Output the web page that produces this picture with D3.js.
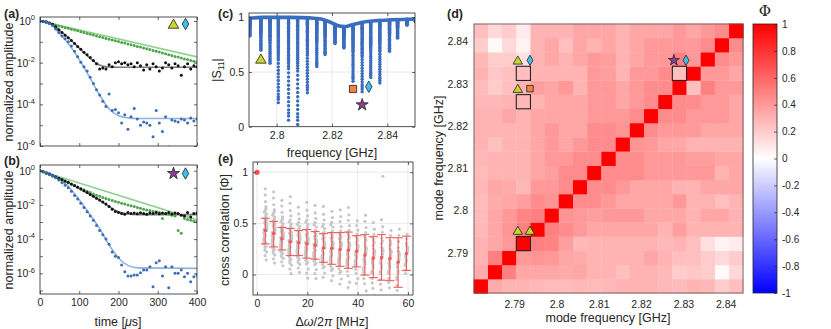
<!DOCTYPE html>
<html><head><meta charset="utf-8">
<script src="https://cdn.jsdelivr.net/npm/d3@7"></script>
<style>
body{margin:0;background:#fff}
text{font-family:"Liberation Sans",Arial,Helvetica,sans-serif;fill:#262626}
</style></head>
<body><svg id="fig" width="831" height="329" xmlns="http://www.w3.org/2000/svg"></svg>
<script>
// ---------------- DATA ----------------
const timeUs = [0,8,16,24,32,40,48,56,64,72,80,88,96,104,112,120,128,136,144,152,160,168,176,184,192,200,208,216,224,232,240,248,256,264,272,280,288,296,304,312,320,328,336,344,352,360,368,376,384,392,400];
// panel (a): log10 of normalized amplitude
const aGreenLog = [0,-0.03,-0.08,-0.11,-0.16,-0.19,-0.24,-0.27,-0.32,-0.35,-0.40,-0.43,-0.47,-0.52,-0.55,-0.60,-0.63,-0.67,-0.72,-0.75,-0.79,-0.84,-0.87,-0.91,-0.95,-0.98,-1.03,-1.06,-1.10,-1.14,-1.17,-1.22,-1.25,-1.30,-1.33,-1.37,-1.42,-1.45,-1.49,-1.54,-1.57,-1.62,-1.65,-1.70,-1.73,-1.78,-1.82,-1.85,-1.90,-1.93,-1.97];
const aBlackLog = [0,-0.01,-0.04,-0.09,-0.16,-0.27,-0.42,-0.55,-0.68,-0.80,-0.93,-1.08,-1.22,-1.35,-1.50,-1.62,-1.75,-1.90,-2.05,-2.30,-2.25,-2.30,-2.10,-2.20,-2.00,-1.95,-2.05,-2.00,-2.10,-2.05,-2.20,-2.00,-2.15,-2.35,-2.10,-2.30,-2.05,-2.20,-2.40,-2.25,-2.00,-2.10,-2.25,-2.05,-2.15,-2.60,-2.20,-2.05,-2.30,-2.15,-2.20];
const aBlueLog = [0,-0.02,-0.06,-0.12,-0.22,-0.38,-0.55,-0.72,-0.85,-1.00,-1.20,-1.45,-1.72,-1.98,-2.20,-2.40,-2.70,-3.00,-3.30,-3.55,-3.85,-4.10,-3.50,-4.30,-4.25,-4.40,-4.90,-4.50,-5.20,-4.60,-4.20,-4.70,-5.00,-4.85,-4.90,-5.00,-5.55,-4.30,-4.90,-5.30,-4.60,-6.05,-4.75,-4.80,-4.85,-4.70,-4.75,-4.90,-4.65,-4.80,-4.70];
const aGreenFit = [[0,0],[400,-1.72]];
const aBlackFit = [[0,0],[25,-0.08],[50,-0.45],[75,-0.85],[100,-1.3],[125,-1.75],[150,-2.1],[170,-2.2],[200,-2.22],[400,-2.22]];
const aBlueFit = [[0,0],[25,-0.12],[50,-0.6],[75,-1.15],[100,-1.85],[125,-2.65],[150,-3.5],[175,-4.2],[200,-4.55],[225,-4.65],[250,-4.68],[400,-4.68]];
// panel (b)
const bGreenLog = [0,-0.08,-0.16,-0.24,-0.32,-0.40,-0.48,-0.56,-0.64,-0.72,-0.80,-0.88,-0.96,-1.04,-1.12,-1.20,-1.28,-1.36,-1.44,-1.50,-1.56,-1.62,-1.68,-1.74,-1.80,-1.85,-1.90,-1.95,-2.00,-2.05,-2.10,-2.15,-2.20,-2.25,-2.30,-2.33,-2.37,-2.40,-2.44,-2.80,-2.50,-2.55,-2.60,-2.65,-3.50,-3.65,-2.80,-2.85,-2.90,-2.95,-2.98];
const bBlackLog = [0,-0.06,-0.13,-0.20,-0.28,-0.36,-0.44,-0.52,-0.60,-0.68,-0.78,-0.87,-0.97,-1.07,-1.17,-1.28,-1.39,-1.50,-1.61,-1.72,-1.83,-1.95,-2.10,-2.25,-2.38,-2.45,-2.50,-2.55,-2.45,-2.50,-2.48,-2.52,-2.46,-2.50,-2.55,-2.47,-2.50,-2.45,-2.52,-2.48,-2.50,-2.45,-2.53,-2.48,-2.50,-2.60,-2.65,-2.45,-2.70,-2.50,-2.48];
const bBlueLog = [0,-0.05,-0.12,-0.22,-0.30,-0.42,-0.55,-0.70,-0.85,-1.00,-1.20,-1.45,-1.65,-1.90,-2.15,-2.40,-2.65,-2.90,-3.20,-3.50,-3.75,-4.00,-4.30,-4.75,-5.00,-5.07,-5.51,-5.90,-6.16,-6.16,-6.10,-6.10,-5.96,-5.80,-5.81,-5.61,-6.78,-5.38,-5.26,-6.16,-5.61,-6.84,-5.61,-6.00,-6.00,-5.81,-6.20,-6.00,-6.49,-6.20,-6.10];
const bGreenFit = [[0,0],[400,-2.88]];
const bBlackFit = [[0,0],[50,-0.45],[100,-1.05],[150,-1.7],[180,-2.15],[200,-2.4],[220,-2.52],[250,-2.57],[400,-2.57]];
const bBlueFit = [[0,0],[25,-0.15],[50,-0.5],[75,-1.0],[100,-1.7],[125,-2.5],[150,-3.3],[175,-4.3],[200,-5.1],[225,-5.55],[250,-5.68],[400,-5.71]];
const decadeTicks = [0,-1,-2,-3,-4,-5,-6,-7];
const decadeLabels = [0,-2,-4,-6];
const timeTicks = [0,100,200,300,400];

// panel (c): |S11|
const cModeFreq = [2.7903,2.7943,2.7976,2.8006,2.8043,2.8076,2.8111,2.8145,2.8175,2.8211,2.8243,2.8276,2.8309,2.8340,2.8373,2.8408,2.8437,2.8471,2.8502];
const cModeMin  = [0.83,0.70,0.58,0.22,0.06,0.02,0.31,0.55,0.66,0.76,0.72,0.415,0.32,0.45,0.40,0.69,0.81,0.93,0.96];
const cBaseline = [[2.7895,0.99],[2.795,1.0],[2.805,1.0],[2.812,0.995],[2.816,0.985],[2.819,0.96],[2.822,0.925],[2.8245,0.915],[2.827,0.93],[2.831,0.955],[2.836,0.97],[2.842,0.978],[2.8505,0.985]];
const cDipProfile = [0,0.012,0.024,0.036,0.048,0.06,0.072,0.084,0.096,0.108,0.12,0.135,0.15,0.165,0.18,0.195,0.21,0.225,0.24,0.255,0.27,0.285,0.3,0.318,0.336,0.354,0.372,0.39,0.41,0.43,0.45,0.475,0.5,0.54,0.58,0.62,0.66,0.70,0.74,0.78,0.82,0.86,0.90,0.93,0.96,1.0];
const cMarkers = [{s:'tri',f:2.7943,v:0.62},{s:'sq',f:2.8276,v:0.345},{s:'dia',f:2.8333,v:0.366},{s:'star',f:2.8309,v:0.2}];
const cTicksX = [2.80,2.82,2.84], cTicksY = [0,0.5,1];

// panel (d): correlation matrix (upper triangle, row i from lowest mode; entries j=i+1..18)
const dModeFreq = [2.7821,2.7855,2.7888,2.7922,2.7955,2.7989,2.8022,2.8056,2.8089,2.8123,2.8157,2.8190,2.8224,2.8257,2.8291,2.8324,2.8358,2.8391,2.8425];
const corrUpper = [
 [0.33,0.30,0.30,0.28,0.27,0.27,0.28,0.27,0.28,0.30,0.30,0.30,0.28,0.27,0.30,0.28,0.20,0.25],
 [0.50,0.35,0.35,0.35,0.33,0.35,0.30,0.30,0.25,0.30,0.30,0.28,0.20,0.22,0.20,0.02,0.15],
 [0.40,0.42,0.40,0.35,0.33,0.30,0.30,0.30,0.30,0.35,0.30,0.25,0.25,0.20,0.15,0.20],
 [0.50,0.48,0.38,0.28,0.30,0.30,0.30,0.30,0.30,0.28,0.30,0.25,0.12,0.05,0.08],
 [0.50,0.45,0.40,0.35,0.35,0.35,0.35,0.35,0.30,0.38,0.30,0.30,0.30,0.30],
 [0.42,0.40,0.38,0.40,0.40,0.40,0.35,0.35,0.35,0.30,0.35,0.35,0.30],
 [0.45,0.45,0.40,0.35,0.35,0.35,0.35,0.40,0.30,0.30,0.25,0.30],
 [0.45,0.45,0.40,0.35,0.35,0.35,0.30,0.30,0.35,0.35,0.35],
 [0.45,0.45,0.45,0.40,0.40,0.40,0.40,0.40,0.30,0.35],
 [0.45,0.45,0.40,0.40,0.40,0.38,0.38,0.35,0.35],
 [0.42,0.40,0.35,0.35,0.30,0.30,0.30,0.30],
 [0.45,0.40,0.40,0.40,0.35,0.35,0.35],
 [0.45,0.45,0.40,0.40,0.40,0.35],
 [0.45,0.45,0.40,0.40,0.35],
 [0.25,0.50,0.40,0.40],
 [0.40,0.40,0.35],
 [0.45,0.40],
 [0.45]
];
const dBoxes = [[3,15],[3,13],[14,15],[3,3]]; // [col,row]
const dBoxMarkers = [['tri','dia'],['tri','sq'],['star','dia'],['tri','tri']];
const dTicks = [2.79,2.80,2.81,2.82,2.83,2.84];
const cbTicks = [-1,-0.8,-0.6,-0.4,-0.2,0,0.2,0.4,0.6,0.8,1];

// panel (e)
const eDelta = [3.3,6.6,9.9,13.2,16.5,19.8,23.1,26.4,29.7,33.0,36.3,39.6,42.9,46.2,49.5,52.8,56.1,59.4];
const eMean = [0.43,0.40,0.35,0.32,0.31,0.30,0.285,0.26,0.256,0.245,0.237,0.227,0.19,0.16,0.165,0.156,0.12,0.205];
const eLo = [0.30,0.27,0.24,0.185,0.185,0.16,0.15,0.12,0.10,0.08,0.06,0.075,-0.005,-0.03,-0.055,-0.06,-0.125,0.04];
const eHi = [0.55,0.52,0.46,0.45,0.43,0.44,0.42,0.40,0.41,0.41,0.415,0.38,0.39,0.37,0.39,0.36,0.36,0.375];
const grayZ = [0.05,-0.2,0.35,-0.45,0.6,-0.7,0.15,-0.08,0.85,-0.95,0.28,-0.35,1.1,-1.15,0.45,-0.6,1.35,-1.4,0.72,-0.25,1.65,-1.75,0.98,0.2,-0.82,1.95,-2.05,0.4,-0.5,2.35,-1.3,0.65,0.0,1.5,-1.0,2.9,-2.4,0.1,1.2,-0.38,0.52,-1.6,3.4,0.25,-0.72,1.8,-0.15,0.9];
const grayDx = [0.25,-0.35,0.5,-0.1,0.05,-0.55,0.4,-0.25,0.15,-0.45,0.55,-0.05,0.3,-0.4,0.1,-0.5,0.45,-0.15,0.35,-0.3,0.0,0.5,-0.35,0.2,-0.55,0.25,-0.1,0.4,-0.45,0.05,0.3,-0.25,0.5,-0.4,0.1,-0.05,0.35,-0.5,0.15,-0.3,0.55,-0.15,0.0,0.45,-0.35,0.25,-0.55,0.35];
const grayCounts = [48,48,46,44,42,40,38,36,34,32,30,28,26,24,22,20,18,16];
const grayExtra = [[50.0,0.96]];
const eSelf = [0,1];
const eTicksX = [0,20,40,60], eTicksY = [0,0.5,1];

// ---------------- DRAWING ----------------
const svg = d3.select('#fig');
const AX = '#262626';
const defs = svg.append('defs');
const COL = {green:'#4da64d', greenFit:'#90d090', black:'#111', gray:'#7d7d7d', blue:'#3b6cb6', blueFit:'#8fb3da',
  tri:'#c9d42c', sq:'#f0843c', dia:'#3cbfe9', star:'#8c3f8f', s11:'#3a6cbf'};
const fmtMinus = f => (d => f(d).replace('\u2212','-'));

function clip(id, x0, y0, w, h){
  defs.append('clipPath').attr('id',id).append('rect').attr('x',x0).attr('y',y0).attr('width',w).attr('height',h);
  return 'url(#'+id+')';
}
function frameAxes(x, y, opt){
  const [xa,xb] = x.range(), [ya,yb] = y.range();
  const top = Math.min(ya,yb), bot = Math.max(ya,yb);
  const g = svg.append('g');
  const ax = g.append('g').attr('transform',`translate(0,${bot})`)
    .call(d3.axisBottom(x).tickValues(opt.xt).tickSize(-3).tickPadding(5).tickFormat(opt.xf||null));
  g.append('g').attr('transform',`translate(0,${top})`)
    .call(d3.axisTop(x).tickValues(opt.xt).tickSize(-3).tickFormat(''));
  const ay = g.append('g').attr('transform',`translate(${xa},0)`)
    .call(d3.axisLeft(y).tickValues(opt.yt).tickSize(-3).tickPadding(5).tickFormat(opt.yf||null));
  g.append('g').attr('transform',`translate(${xb},0)`)
    .call(d3.axisRight(y).tickValues(opt.yt).tickSize(-3).tickFormat(''));
  g.selectAll('.domain').remove();
  g.selectAll('.tick line').attr('stroke',AX).attr('stroke-width',0.7);
  g.selectAll('.tick text').style('font-size','10.5px').attr('fill',AX);
  g.append('rect').attr('x',xa).attr('y',top).attr('width',xb-xa).attr('height',bot-top)
    .attr('fill','none').attr('stroke',AX).attr('stroke-width',0.8);
  return {ax, ay};
}
function gridLines(x, y, xv, yv){
  const [xa,xb] = x.range(), [ya,yb] = y.range();
  const g = svg.append('g');
  g.selectAll('.gx').data(xv).join('line').attr('x1',d=>x(d)).attr('x2',d=>x(d)).attr('y1',ya).attr('y2',yb)
    .attr('stroke','#e3e3e3').attr('stroke-width',0.8);
  g.selectAll('.gy').data(yv).join('line').attr('y1',d=>y(d)).attr('y2',d=>y(d)).attr('x1',xa).attr('x2',xb)
    .attr('stroke','#e3e3e3').attr('stroke-width',0.8);
}
function marker(g, type, cx, cy, scale){
  scale = scale||1;
  let sym, size, fill;
  if(type==='tri'){sym=d3.symbolTriangle; size=48; fill=COL.tri;}
  else if(type==='sq'){sym=d3.symbolSquare; size=52; fill=COL.sq;}
  else if(type==='dia'){sym=d3.symbolDiamond; size=38; fill=COL.dia;}
  else {sym=d3.symbolStar; size=46; fill=COL.star;}
  const dy = type==='tri' ? 1.2*scale : 0;
  g.append('path').attr('d',d3.symbol().type(sym).size(size*scale*scale)())
    .attr('transform',`translate(${cx},${cy+dy})`).attr('fill',fill).attr('stroke','#222').attr('stroke-width',0.8);
}
function logLabels(axisSel){
  axisSel.selectAll('.tick text').each(function(d){
    const e = Math.round(Math.log10(d));
    const t = d3.select(this);
    t.text('');
    if(!decadeLabels.includes(e)) return;
    t.append('tspan').text('10');
    t.append('tspan').attr('dy',-4.5).style('font-size','7.5px').text(String(e));
  });
}
function panelLabel(txt, x, y){
  svg.append('text').attr('x',x).attr('y',y).style('font-weight','bold').style('font-size','12.5px').text(txt);
}

// ---- panels (a) & (b) ----
function decayPanel(id, top, bot, dom, green, black, blue, gFit, kFit, bFit, showX){
  const x = d3.scaleLinear().domain([0,400]).range([40,197]);
  const y = d3.scaleLog().domain(dom).range([bot,top]);
  const cp = clip(id, 40, top, 157, bot-top);
  const g = svg.append('g').attr('clip-path',cp);
  const line = d3.line().x(d=>x(d[0])).y(d=>y(Math.pow(10,d[1]))).curve(d3.curveMonotoneX);
  g.append('path').datum(gFit).attr('d',line).attr('fill','none').attr('stroke',COL.greenFit).attr('stroke-width',1.6);
  g.append('path').datum(kFit).attr('d',line).attr('fill','none').attr('stroke',COL.gray).attr('stroke-width',1.6);
  g.append('path').datum(bFit).attr('d',line).attr('fill','none').attr('stroke',COL.blueFit).attr('stroke-width',1.6);
  [[green,COL.green],[black,COL.black],[blue,COL.blue]].forEach(([arr,c])=>{
    g.selectAll(null).data(arr).join('circle').attr('cx',(d,i)=>x(timeUs[i])).attr('cy',d=>y(Math.pow(10,d)))
      .attr('r',1.5).attr('fill',c);
  });
  const axes = frameAxes(x, y, {xt:timeTicks, yt:decadeTicks.map(e=>Math.pow(10,e)).filter(v=>v>=dom[0]), xf: showX?d3.format('d'):()=>''});
  logLabels(axes.ay);
  return {x,y};
}
decayPanel('ca', 17, 146, [1e-6, 1.56], aGreenLog, aBlackLog, aBlueLog, aGreenFit, aBlackFit, aBlueFit, false);
decayPanel('cb', 165, 294, [6.2e-8, 2.15], bGreenLog, bBlackLog, bBlueLog, bGreenFit, bBlackFit, bBlueFit, true);
const mg = svg.append('g');
marker(mg,'tri',173.5,24); marker(mg,'dia',185.5,24);
marker(mg,'star',173.5,173.5); marker(mg,'dia',185.5,173.5);
svg.append('text').attr('transform','translate(13,82) rotate(-90)').attr('text-anchor','middle').style('font-size','12.5px').text('normalized amplitude');
svg.append('text').attr('transform','translate(13,230) rotate(-90)').attr('text-anchor','middle').style('font-size','12.5px').text('normalized amplitude');
const tl = svg.append('text').attr('x',118).attr('y',326).attr('text-anchor','middle').style('font-size','12.5px');
tl.append('tspan').text('time [');tl.append('tspan').style('font-style','italic').text('μ');tl.append('tspan').text('s]');
panelLabel('(a)',4,17.5); panelLabel('(b)',4,165);

// ---- panel (c) ----
{
  const x = d3.scaleLinear().domain([2.79,2.85]).range([249,415]);
  const y = d3.scaleLinear().domain([0,1.04]).range([126.7,13]);
  gridLines(x,y,cTicksX,[0.5]);
  const cp = clip('cc',249,13,166,113.7);
  const g = svg.append('g').attr('clip-path',cp);
  const base = d3.scaleLinear().domain(cBaseline.map(d=>d[0])).range(cBaseline.map(d=>d[1]));
  const pts = [];
  cModeFreq.forEach((f,m)=>{ const b = base(f); cDipProfile.forEach(p=>pts.push([f, b - p*(b - cModeMin[m])])); });
  g.selectAll(null).data(pts).join('circle').attr('cx',d=>x(d[0])).attr('cy',d=>y(d[1])).attr('r',1.7).attr('fill',COL.s11);
  g.append('path').datum(cBaseline).attr('d',d3.line().x(d=>x(d[0])).y(d=>y(d[1])).curve(d3.curveMonotoneX))
    .attr('fill','none').attr('stroke',COL.s11).attr('stroke-width',3.6);
  frameAxes(x,y,{xt:cTicksX, yt:cTicksY, xf:d3.format('.2~f'), yf:d3.format('~g')});
  const mgc = svg.append('g');
  cMarkers.forEach(m=>marker(mgc,m.s,x(m.f),y(m.v),1.0));
  const yl = svg.append('text').attr('transform','translate(221,70) rotate(-90)').attr('text-anchor','middle').style('font-size','12.5px');
  yl.append('tspan').text('|S');yl.append('tspan').attr('dy',3).style('font-size','8.5px').text('11');yl.append('tspan').attr('dy',-3).text('|');
  svg.append('text').attr('x',332).attr('y',157).attr('text-anchor','middle').style('font-size','12.5px').text('frequency [GHz]');
  panelLabel('(c)',218,18);
}

// ---- panel (e) ----
{
  const x = d3.scaleLinear().domain([-1.6,62]).range([253,413]);
  const y = d3.scaleLinear().domain([-0.2,1.1]).range([295,162]);
  gridLines(x,y,eTicksX,eTicksY);
  const cp = clip('ce',253,162,160,133);
  const g = svg.append('g').attr('clip-path',cp);
  const gp = [];
  eDelta.forEach((dlt,k)=>{ for(let n=0;n<grayCounts[k];n++) gp.push([dlt+grayDx[n], eMean[k]+grayZ[n]*(eHi[k]-eMean[k])]); });
  grayExtra.forEach(p=>gp.push(p));
  g.selectAll(null).data(gp).join('circle').attr('cx',d=>x(d[0])).attr('cy',d=>y(d[1])).attr('r',1.6).attr('fill','#c8c8c8');
  const red = '#f25c5c';
  const eb = g.selectAll(null).data(eDelta).join('g');
  eb.append('line').attr('x1',d=>x(d)).attr('x2',d=>x(d)).attr('y1',(d,i)=>y(eLo[i])).attr('y2',(d,i)=>y(eHi[i])).attr('stroke',red).attr('stroke-width',1.1);
  eb.append('line').attr('x1',d=>x(d)-4.5).attr('x2',d=>x(d)+4.5).attr('y1',(d,i)=>y(eLo[i])).attr('y2',(d,i)=>y(eLo[i])).attr('stroke',red).attr('stroke-width',1.1);
  eb.append('line').attr('x1',d=>x(d)-4.5).attr('x2',d=>x(d)+4.5).attr('y1',(d,i)=>y(eHi[i])).attr('y2',(d,i)=>y(eHi[i])).attr('stroke',red).attr('stroke-width',1.1);
  eb.append('circle').attr('cx',d=>x(d)).attr('cy',(d,i)=>y(eMean[i])).attr('r',1.8).attr('fill',red);
  g.append('circle').attr('cx',x(eSelf[0])).attr('cy',y(eSelf[1])).attr('r',2.6).attr('fill','#ff4a4a');
  frameAxes(x,y,{xt:eTicksX, yt:eTicksY, xf:d3.format('d'), yf:d3.format('~g')});
  svg.append('text').attr('transform','translate(229,230) rotate(-90)').attr('text-anchor','middle').style('font-size','12.5px').text('cross correlation [Φ]');
  const xl = svg.append('text').attr('x',332).attr('y',326).attr('text-anchor','middle').style('font-size','12.5px');
  xl.append('tspan').text('Δ');xl.append('tspan').style('font-style','italic').text('ω');xl.append('tspan').text('/2');xl.append('tspan').style('font-style','italic').text('π');xl.append('tspan').text(' [MHz]');
  panelLabel('(e)',218,163);
}

// ---- panel (d) ----
{
  const x = d3.scaleLinear().domain([2.7805,2.8441]).range([474,743]);
  const y = d3.scaleLinear().domain([2.7805,2.8441]).range([293,24]);
  const color = d3.scaleLinear().domain([-1,0,1]).range(['#0000ff','#ffffff','#ff0000']);
  const N = dModeFreq.length;
  const edges = [];
  for(let k=0;k<=N;k++){
    if(k===0) edges.push(dModeFreq[0]-(dModeFreq[1]-dModeFreq[0])/2);
    else if(k===N) edges.push(dModeFreq[N-1]+(dModeFreq[N-1]-dModeFreq[N-2])/2);
    else edges.push((dModeFreq[k-1]+dModeFreq[k])/2);
  }
  const corr = (i,j)=> i===j ? 1 : (i<j ? corrUpper[i][j-i-1] : corrUpper[j][i-j-1]);
  const cells = [];
  for(let i=0;i<N;i++) for(let j=0;j<N;j++) cells.push({i,j,v:corr(i,j)});
  svg.append('g').selectAll('rect').data(cells).join('rect')
    .attr('x',d=>x(edges[d.j])).attr('width',d=>x(edges[d.j+1])-x(edges[d.j])+0.3)
    .attr('y',d=>y(edges[d.i+1])).attr('height',d=>y(edges[d.i])-y(edges[d.i+1])+0.3)
    .attr('fill',d=>color(d.v));
  const g = svg.append('g');
  g.append('g').attr('transform','translate(0,293)').call(d3.axisBottom(x).tickValues(dTicks).tickSize(0).tickPadding(8).tickFormat(d3.format('.2~f')));
  g.append('g').attr('transform','translate(474,0)').call(d3.axisLeft(y).tickValues(dTicks).tickSize(0).tickPadding(6).tickFormat(d3.format('.2~f')));
  g.selectAll('.domain').remove();
  g.selectAll('.tick text').style('font-size','10.5px').attr('fill',AX);
  svg.append('rect').attr('x',474).attr('y',24).attr('width',269).attr('height',269).attr('fill','none').attr('stroke','#555').attr('stroke-width',0.8);
  const mk = svg.append('g');
  dBoxes.forEach(([c,r],k)=>{
    const x0 = x(edges[c]), x1 = x(edges[c+1]), yt = y(edges[r+1]), yb = y(edges[r]);
    mk.append('rect').attr('x',x0).attr('y',yt).attr('width',x1-x0).attr('height',yb-yt).attr('fill','none').attr('stroke','#222').attr('stroke-width',1.1);
    marker(mk, dBoxMarkers[k][0], x0+1.5, yt-6, 0.9);
    marker(mk, dBoxMarkers[k][1], x1-0.5, yt-6, 0.9);
  });
  svg.append('text').attr('x',608).attr('y',322).attr('text-anchor','middle').style('font-size','12.5px').text('mode frequency [GHz]');
  svg.append('text').attr('transform','translate(443,158) rotate(-90)').attr('text-anchor','middle').style('font-size','12.5px').text('mode frequency [GHz]');
  panelLabel('(d)',447,17.5);
  // colorbar
  const grad = defs.append('linearGradient').attr('id','cbg').attr('x1',0).attr('x2',0).attr('y1',1).attr('y2',0);
  [[0,'#0000ff'],[0.5,'#ffffff'],[1,'#ff0000']].forEach(([o,c])=>grad.append('stop').attr('offset',o).attr('stop-color',c));
  const yc = d3.scaleLinear().domain([-1,1]).range([293,24]);
  svg.append('rect').attr('x',753).attr('y',24).attr('width',24).attr('height',269).attr('fill','url(#cbg)');
  const cb = svg.append('g').attr('transform','translate(777,0)').call(d3.axisRight(yc).tickValues(cbTicks).tickSize(-3).tickPadding(5).tickFormat(fmtMinus(d3.format('~g'))));
  cb.select('.domain').remove();
  cb.selectAll('.tick line').attr('stroke',AX).attr('stroke-width',0.7);
  cb.selectAll('.tick text').style('font-size','10px').attr('fill',AX);
  svg.append('rect').attr('x',753).attr('y',24).attr('width',24).attr('height',269).attr('fill','none').attr('stroke',AX).attr('stroke-width',0.8);
  svg.append('text').attr('x',765).attr('y',16).attr('text-anchor','middle').style('font-family','"DejaVu Serif","Liberation Serif",serif').style('font-size','15px').text('Φ');
}
</script></body></html>
